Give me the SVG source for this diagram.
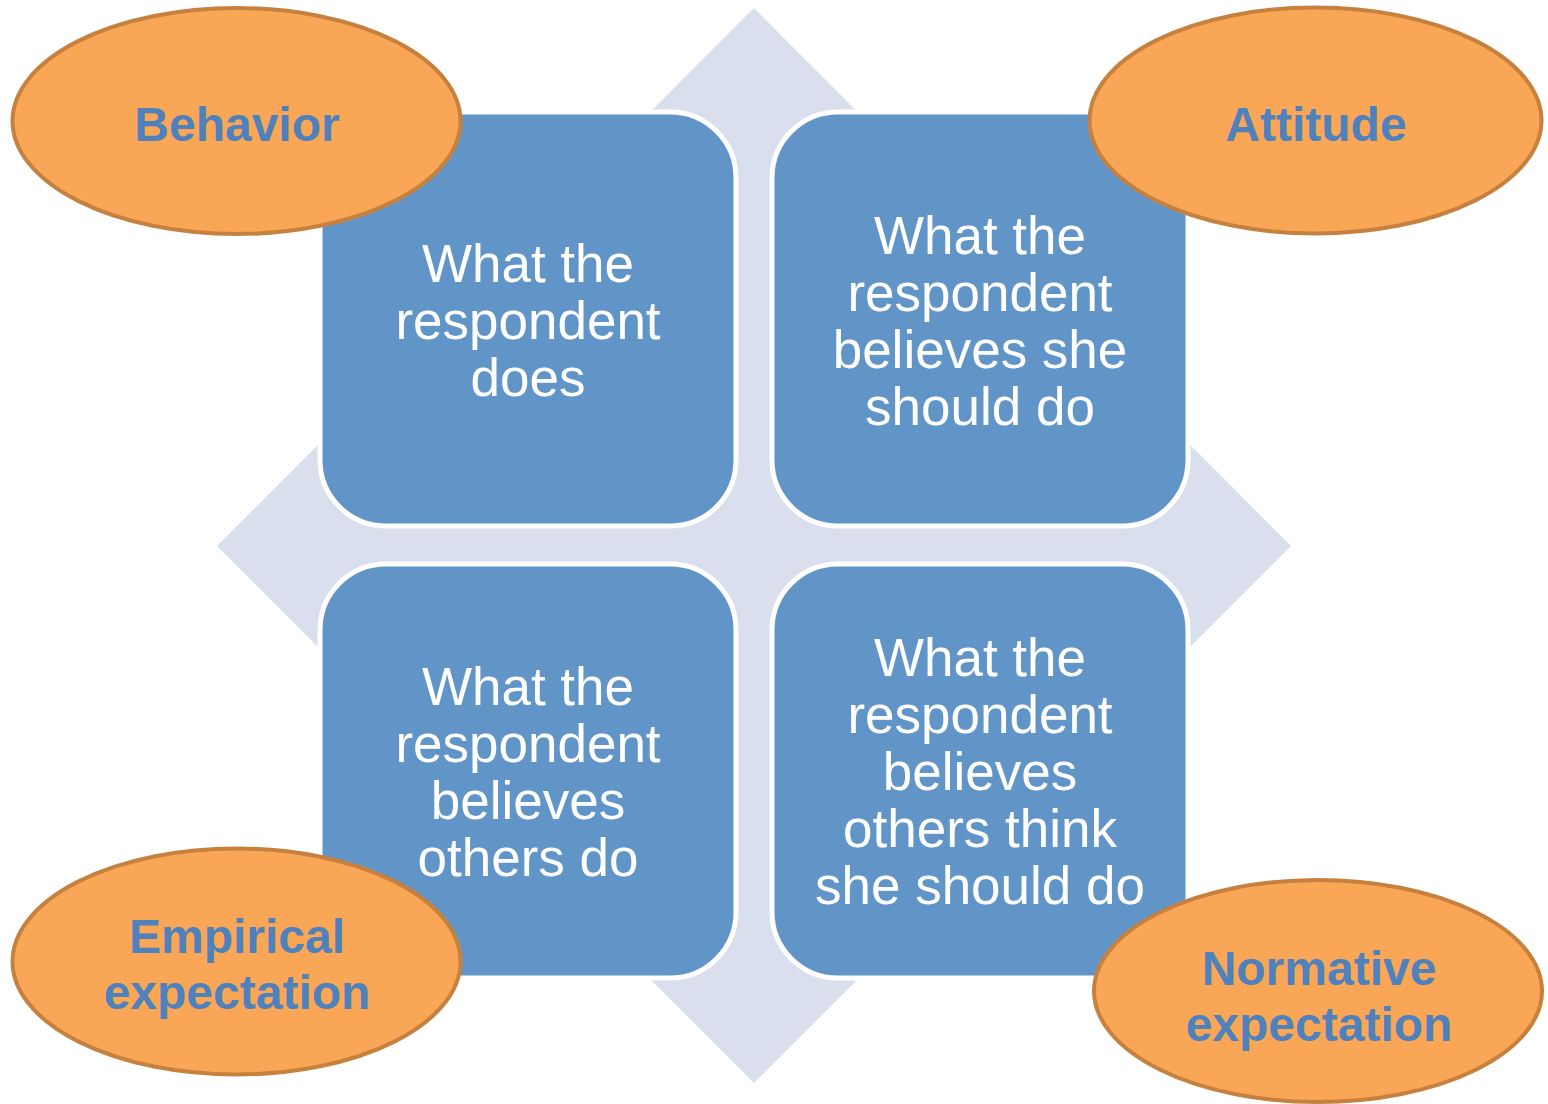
<svg xmlns="http://www.w3.org/2000/svg" width="1548" height="1104" viewBox="0 0 1548 1104">
  <style>
    .bg { fill: #d9dfec; }
    .box { fill: #6195c8; stroke: #ffffff; stroke-width: 5; }
    .boxtext { font-family: "Liberation Sans", Arial, sans-serif; font-size: 53px; fill: #ffffff; text-anchor: middle; }
    .oval { fill: #f9a756; stroke: #c7813f; stroke-width: 4; }
    .ovaltext { font-family: "Liberation Sans", Arial, sans-serif; font-size: 48px; font-weight: bold; fill: #4f81bd; text-anchor: middle; }
  </style>

  <!-- background diamond -->
  <polygon class="bg" points="754,8 1291,546 754,1083 217,546"/>

  <g id="connectors"></g>

  <!-- quadrant boxes -->
  <g id="box-does">
    <rect class="box" x="320" y="112" width="416" height="414" rx="66" ry="66"/>
    <text class="boxtext"><tspan x="528" y="282">What the</tspan><tspan x="528" y="339">respondent</tspan><tspan x="528" y="396">does</tspan></text>
  </g>
  <g id="box-should">
    <rect class="box" x="772" y="112" width="416" height="414" rx="66" ry="66"/>
    <text class="boxtext"><tspan x="980" y="254">What the</tspan><tspan x="980" y="311">respondent</tspan><tspan x="980" y="368">believes she</tspan><tspan x="980" y="425">should do</tspan></text>
  </g>
  <g id="box-others-do">
    <rect class="box" x="320" y="564" width="416" height="414" rx="66" ry="66"/>
    <text class="boxtext"><tspan x="528" y="705">What the</tspan><tspan x="528" y="762">respondent</tspan><tspan x="528" y="819">believes</tspan><tspan x="528" y="876">others do</tspan></text>
  </g>
  <g id="box-others-think">
    <rect class="box" x="772" y="564" width="416" height="414" rx="66" ry="66"/>
    <text class="boxtext"><tspan x="980" y="676">What the</tspan><tspan x="980" y="733">respondent</tspan><tspan x="980" y="790">believes</tspan><tspan x="980" y="847">others think</tspan><tspan x="980" y="904">she should do</tspan></text>
  </g>

  <!-- corner labels -->
  <g id="label-behavior">
    <ellipse class="oval" cx="236.5" cy="121" rx="224" ry="113"/>
    <text class="ovaltext" x="237" y="141">Behavior</text>
  </g>
  <g id="label-attitude">
    <ellipse class="oval" cx="1315.5" cy="120.5" rx="226" ry="113"/>
    <text class="ovaltext" x="1316" y="141">Attitude</text>
  </g>
  <g id="label-empirical">
    <ellipse class="oval" cx="236.5" cy="961.5" rx="224" ry="113"/>
    <text class="ovaltext"><tspan x="237" y="953">Empirical</tspan><tspan x="237" y="1009">expectation</tspan></text>
  </g>
  <g id="label-normative">
    <ellipse class="oval" cx="1318" cy="991" rx="224" ry="111"/>
    <text class="ovaltext"><tspan x="1319" y="985">Normative</tspan><tspan x="1319" y="1041">expectation</tspan></text>
  </g>
</svg>
